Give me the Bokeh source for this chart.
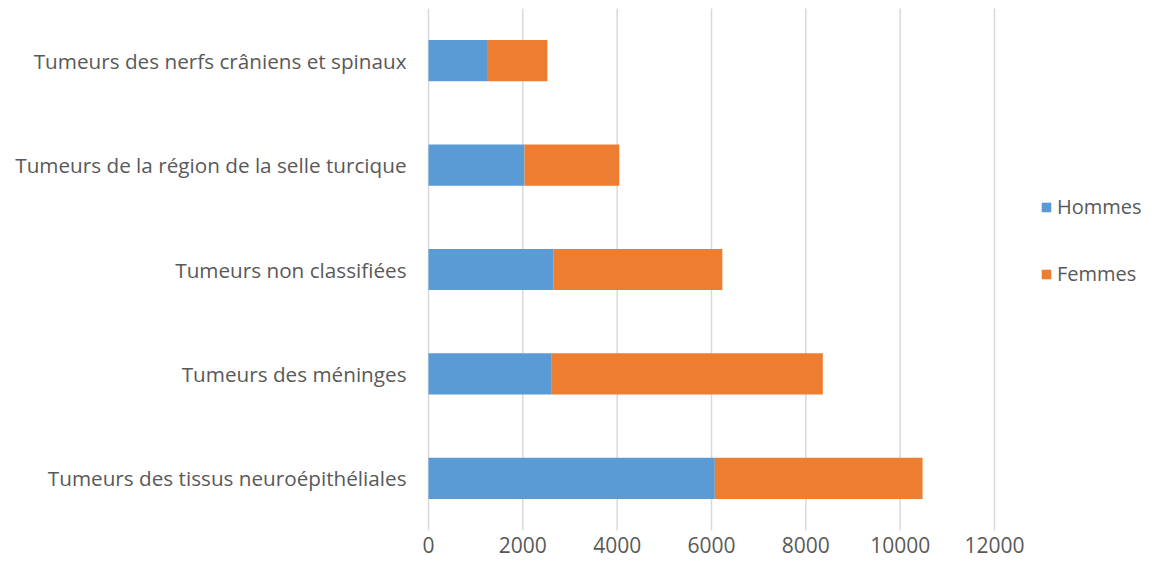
from bokeh.plotting import figure
from bokeh.models import Range1d, Legend, LegendItem, ColumnDataSource
from bokeh.core.properties import value
from bokeh.embed import file_html
from bokeh.resources import INLINE

categories = [
    "Tumeurs des tissus neuroépithéliales",
    "Tumeurs des méninges",
    "Tumeurs non classifiées",
    "Tumeurs de la région de la selle turcique",
    "Tumeurs des nerfs crâniens et spinaux",
]
hommes = [6070, 2600, 2645, 2035, 1240]
femmes = [4405, 5760, 3585, 2010, 1280]
x_ticks = [0, 2000, 4000, 6000, 8000, 10000, 12000]
x_tick_labels = ["0", "2000", "4000", "6000", "8000", "10000", "12000"]
series_names = ["Hommes", "Femmes"]
colors = ["#5B9BD5", "#ED7D31"]

FONT = "Open Sans"
TEXT_COLOR = "#595959"
GRID_COLOR = "#D9D9D9"

# ---- layout (pixels) ----
W, H = 1142, 557
LEFT = 428            # plot-area left edge (value 0)
PLOT_TOP = 8          # plot-area top edge
PLOT_BOTTOM = 530     # plot-area bottom edge
PX_PER_UNIT_X = 566 / 12000
band = (PLOT_BOTTOM - PLOT_TOP) / len(categories)

x_lo = -LEFT / PX_PER_UNIT_X
x_hi = (W - LEFT) / PX_PER_UNIT_X
y_lo = -0.5 - (H - PLOT_BOTTOM) / band
y_hi = len(categories) - 0.5 + PLOT_TOP / band

p = figure(
    width=W, height=H,
    x_range=Range1d(x_lo, x_hi), y_range=Range1d(y_lo, y_hi),
    x_axis_location=None, y_axis_location=None,
    min_border_left=0, min_border_right=0, min_border_top=0, min_border_bottom=0,
    output_backend="svg", toolbar_location=None,
)
p.outline_line_color = None
p.background_fill_color = "white"
p.border_fill_color = "white"
p.xgrid.visible = False
p.ygrid.visible = False

ypos = list(range(len(categories)))
totals = [h + f for h, f in zip(hommes, femmes)]

# vertical gridlines across the plot area only
p.segment(x0=x_ticks, x1=x_ticks, y0=-0.5, y1=len(categories) - 0.5,
          line_color=GRID_COLOR, line_width=1.5)

src = ColumnDataSource(dict(y=ypos, h=hommes, t=totals))
r1 = p.hbar(y="y", left=0, right="h", height=0.395, source=src,
            fill_color=colors[0], line_color=None)
r2 = p.hbar(y="y", left="h", right="t", height=0.395, source=src,
            fill_color=colors[1], line_color=None)

# category labels, right-aligned 22 px left of the plot area
cat_x = -22 / PX_PER_UNIT_X
p.text(x=[cat_x] * len(categories), y=ypos, text=categories,
       text_align="right", text_baseline="middle",
       text_font=value(FONT), text_font_size="20.7px", text_color=TEXT_COLOR)

# value tick labels under the plot area
label_anchor_px = 544
y_lab = -0.5 - (label_anchor_px - PLOT_BOTTOM) / band
p.text(x=x_ticks, y=[y_lab] * len(x_ticks), text=x_tick_labels,
       text_align="center", text_baseline="alphabetic",
       text_font=value(FONT), text_font_size="21px", text_color=TEXT_COLOR)

legend = Legend(
    items=[LegendItem(label=series_names[0], renderers=[r1]),
           LegendItem(label=series_names[1], renderers=[r2])],
    location=(1040, 270),
    glyph_width=12, glyph_height=12, label_height=20,
    label_standoff=5, spacing=40, padding=0, margin=0,
    border_line_color=None, background_fill_alpha=0,
    label_text_font=FONT, label_text_font_size="20px", label_text_color=TEXT_COLOR,
)
p.add_layout(legend, "center")

open("out.html", "w").write(file_html(p, INLINE))
